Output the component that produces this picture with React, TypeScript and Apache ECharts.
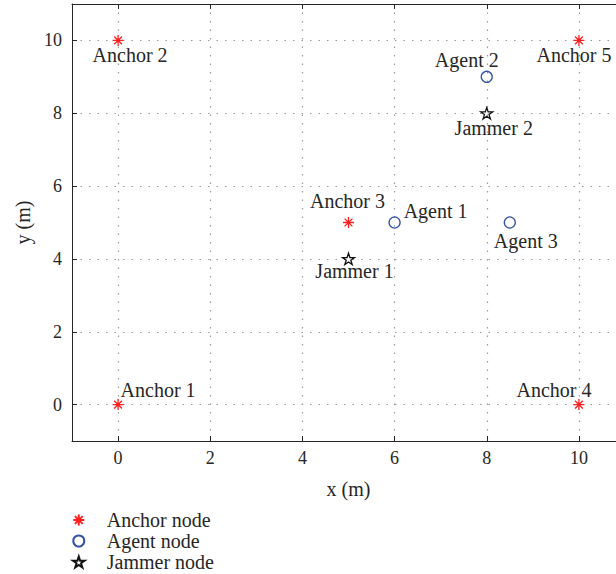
import React, { useEffect, useRef } from 'react';
import * as echarts from 'echarts';

// ---- data ----
const xTicks = [0, 2, 4, 6, 8, 10];
const yTicks = [0, 2, 4, 6, 8, 10];
const xRange = [-1, 11];
const yRange = [-1, 11];

const seriesNames = ['Anchor node', 'Agent node', 'Jammer node'];

const anchorPoints = [[0, 0], [0, 10], [5, 5], [10, 0], [10, 10]];
const anchorNames = ['Anchor 1', 'Anchor 2', 'Anchor 3', 'Anchor 4', 'Anchor 5'];

const agentPoints = [[6, 5], [8, 9], [8.5, 5]];
const agentNames = ['Agent 1', 'Agent 2', 'Agent 3'];

const jammerPoints = [[5, 4], [8, 8]];
const jammerNames = ['Jammer 1', 'Jammer 2'];

// ---- label placement (style) ----
const anchorLabelOffsets = [[40, -15], [12, 15], [-1, -22], [-25, -15], [-5, 15]];
const agentLabelOffsets = [[41, -12], [-20, -17], [16, 18]];
const jammerLabelOffsets = [[6, 12], [7, 15]];

const FONT = 'Liberation Serif';
const TEXT = '#262626';

const asteriskSymbol =
  'path://M5,0 L5,10 M0,5 L10,5 M1.46,1.46 L8.54,8.54 M1.46,8.54 L8.54,1.46';

function buildStar(): string {
  const pts: string[] = [];
  for (let i = 0; i < 10; i++) {
    const r = i % 2 === 0 ? 10 : 3.82;
    const a = -Math.PI / 2 + (i * Math.PI) / 5;
    pts.push(`${(r * Math.cos(a)).toFixed(3)},${(r * Math.sin(a)).toFixed(3)}`);
  }
  return 'path://M' + pts.join(' L') + ' Z';
}
const starSymbol = buildStar();

function makeData(points: number[][], names: string[], offsets: number[][]) {
  return points.map((p, i) => ({
    value: p,
    name: names[i],
    label: { offset: offsets[i] },
  }));
}

const labelStyle = {
  show: true,
  position: 'inside' as const,
  formatter: '{b}',
  color: TEXT,
  fontFamily: FONT,
  fontSize: 20,
  textBorderWidth: 0,
};

export default function App() {
  const ref = useRef<HTMLDivElement>(null);
  useEffect(() => {
    if (!ref.current) return;
    const chart = echarts.init(ref.current, undefined, { renderer: 'svg' });
    const axisLine = { show: true, onZero: false, lineStyle: { color: TEXT, width: 1 } };
    const gridLine = { show: true, lineStyle: { color: '#9a9a9a', type: [1.5, 7], width: 1.2 } };
    chart.setOption({
      animation: false,
      backgroundColor: '#ffffff',
      grid: { left: 72, top: 4, right: -9, bottom: 133, containLabel: false, outerBoundsMode: 'none' },
      legend: {
        orient: 'vertical',
        left: 72,
        top: 510,
        height: 64,
        padding: 0,
        itemWidth: 46,
        itemHeight: 11,
        itemGap: 1,
        data: seriesNames,
        textStyle: { color: TEXT, fontFamily: FONT, fontSize: 20, lineHeight: 20, padding: [0, 0, 0, 0] },
        selectedMode: false,
      },
      xAxis: [
        {
          type: 'value',
          min: xRange[0],
          max: xRange[1],
          position: 'bottom',
          axisLine,
          axisTick: { show: true, inside: true, length: 5, customValues: xTicks, lineStyle: { color: TEXT } },
          axisLabel: { customValues: xTicks, margin: 8, color: TEXT, fontFamily: FONT, fontSize: 18 },
          splitLine: gridLine,
          name: 'x (m)',
          nameLocation: 'middle',
          nameGap: 38,
          nameTextStyle: { color: TEXT, fontFamily: FONT, fontSize: 20 },
        },
        {
          type: 'value',
          min: xRange[0],
          max: xRange[1],
          position: 'top',
          axisLine,
          axisTick: { show: true, inside: true, length: 5, customValues: xTicks, lineStyle: { color: TEXT } },
          axisLabel: { show: false, customValues: xTicks },
          splitLine: { show: false },
        },
      ],
      yAxis: [
        {
          type: 'value',
          min: yRange[0],
          max: yRange[1],
          position: 'left',
          axisLine,
          axisTick: { show: true, inside: true, length: 5, customValues: yTicks, lineStyle: { color: TEXT } },
          axisLabel: { customValues: yTicks, margin: 10, color: TEXT, fontFamily: FONT, fontSize: 18 },
          splitLine: gridLine,
          name: 'y (m)',
          nameLocation: 'middle',
          nameGap: 37,
          nameTextStyle: { color: TEXT, fontFamily: FONT, fontSize: 20 },
        },
      ],
      series: [
        {
          name: seriesNames[0],
          type: 'scatter',
          symbol: asteriskSymbol,
          symbolSize: 11,
          symbolKeepAspect: true,
          itemStyle: { color: 'transparent', borderColor: '#ff1f1f', borderWidth: 1.3, opacity: 1 },
          label: labelStyle,
          emphasis: { disabled: true },
          data: makeData(anchorPoints, anchorNames, anchorLabelOffsets),
        },
        {
          name: seriesNames[1],
          type: 'scatter',
          symbol: 'circle',
          symbolSize: 11,
          itemStyle: { color: 'transparent', borderColor: '#3450a8', borderWidth: 1.3, opacity: 1 },
          label: labelStyle,
          emphasis: { disabled: true },
          data: makeData(agentPoints, agentNames, agentLabelOffsets),
        },
        {
          name: seriesNames[2],
          type: 'scatter',
          symbol: starSymbol,
          symbolSize: 12,
          symbolKeepAspect: true,
          itemStyle: { color: 'transparent', borderColor: '#111111', borderWidth: 1.3, opacity: 1 },
          label: labelStyle,
          emphasis: { disabled: true },
          data: makeData(jammerPoints, jammerNames, jammerLabelOffsets),
        },
      ],
    });
    return () => chart.dispose();
  }, []);
  return (
    <div
      ref={ref}
      style={{ position: 'absolute', left: 0, top: 0, width: 616, height: 574, background: '#fff' }}
    />
  );
}
